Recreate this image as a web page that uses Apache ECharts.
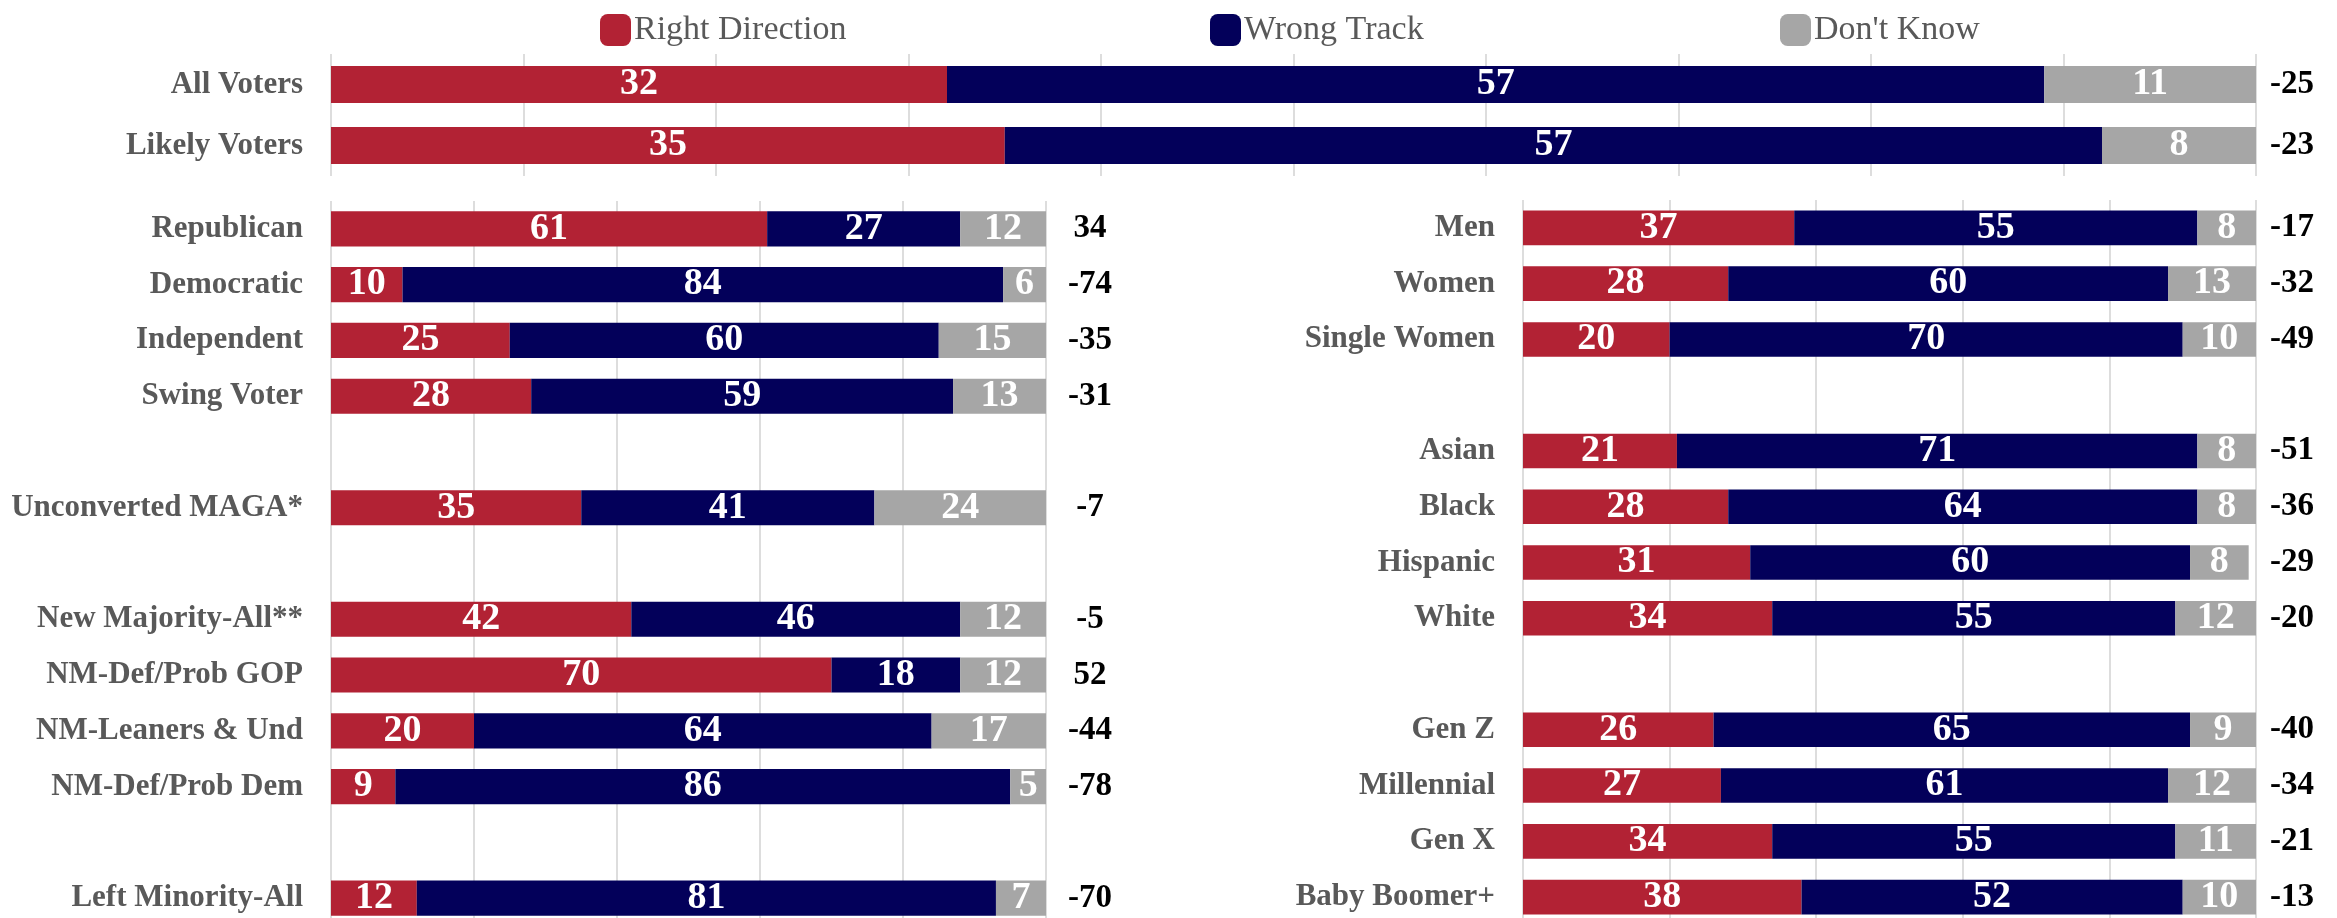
<!DOCTYPE html>
<html>
<head>
<meta charset="utf-8">
<title>Right Direction / Wrong Track</title>
<script src="https://cdn.jsdelivr.net/npm/echarts@6/dist/echarts.min.js"></script>
<style>
  html, body { margin: 0; padding: 0; background: #ffffff; overflow: hidden; }
  /* the last row runs slightly past the visible area, so the canvas is a bit taller */
  #chart { width: 2337px; height: 932px; }
</style>
</head>
<body>
<div id="chart"></div>
<script>
// Series names and colours
const seriesNames = ['Right Direction', 'Wrong Track', "Don't Know"];
const seriesColors = ['#B22234', '#03005A', '#A6A6A6'];

// Top panel: all voters / likely voters
const topCategories = ['All Voters', 'Likely Voters'];
const topRight = [32, 35];
const topWrong = [57, 57];
const topDontKnow = [11, 8];
const topNet = ['-25', '-23'];

// Bottom-left panel: party and New Majority groups ('' rows are spacers)
const leftCategories = ['Republican', 'Democratic', 'Independent', 'Swing Voter', '',
  'Unconverted MAGA*', '', 'New Majority-All**', 'NM-Def/Prob GOP', 'NM-Leaners & Und',
  'NM-Def/Prob Dem', '', 'Left Minority-All'];
const leftRight =    [61, 10, 25, 28, '-', 35, '-', 42, 70, 20, 9, '-', 12];
const leftWrong =    [27, 84, 60, 59, '-', 41, '-', 46, 18, 64, 86, '-', 81];
const leftDontKnow = [12, 6, 15, 13, '-', 24, '-', 12, 12, 17, 5, '-', 7];
const leftNet = ['34', '-74', '-35', '-31', '', '-7', '', '-5', '52', '-44', '-78', '', '-70'];

// Bottom-right panel: gender, race and generation
const rightCategories = ['Men', 'Women', 'Single Women', '', 'Asian', 'Black', 'Hispanic',
  'White', '', 'Gen Z', 'Millennial', 'Gen X', 'Baby Boomer+'];
const rightRight =    [37, 28, 20, '-', 21, 28, 31, 34, '-', 26, 27, 34, 38];
const rightWrong =    [55, 60, 70, '-', 71, 64, 60, 55, '-', 65, 61, 55, 52];
const rightDontKnow = [8, 13, 10, '-', 8, 8, 8, 12, '-', 9, 12, 11, 10];
const rightNet = ['-17', '-32', '-49', '', '-51', '-36', '-29', '-20', '', '-40', '-34', '-21', '-13'];

const FONT = '"Liberation Serif", "DejaVu Serif", serif';

const panels = [
  { cats: topCategories, values: [topRight, topWrong, topDontKnow], net: topNet,
    grid: { left: 331, width: 1925, top: 54, height: 122 }, interval: 10, gap: '39%', netMargin: 36 },
  { cats: leftCategories, values: [leftRight, leftWrong, leftDontKnow], net: leftNet,
    grid: { left: 331, width: 715, top: 201, height: 725 }, interval: 20, gap: '37%', netMargin: 44 },
  { cats: rightCategories, values: [rightRight, rightWrong, rightDontKnow], net: rightNet,
    grid: { left: 1523, width: 733, top: 200, height: 725 }, interval: 20, gap: '38%', netMargin: 36 }
];

const grids = [], xAxes = [], yAxes = [], series = [];

panels.forEach((p, gi) => {
  grids.push(Object.assign({ containLabel: false }, p.grid));
  xAxes.push({
    gridIndex: gi, type: 'value', min: 0, max: 100, interval: p.interval,
    axisLabel: { show: false }, axisLine: { show: false }, axisTick: { show: false },
    splitLine: { show: true, lineStyle: { color: '#DDDDDD', width: 2 } }
  });
  // category names on the left
  yAxes.push({
    gridIndex: gi, type: 'category', data: p.cats, inverse: true, position: 'left',
    axisLine: { show: false }, axisTick: { show: false },
    axisLabel: { interval: 0, margin: 28, color: '#595959', fontWeight: 'bold',
      fontSize: 31, fontFamily: FONT }
  });
  // net (right minus wrong) on the right
  yAxes.push({
    gridIndex: gi, type: 'category', data: p.net, inverse: true, position: 'right',
    axisLine: { show: false }, axisTick: { show: false }, splitLine: { show: false },
    axisLabel: { interval: 0, margin: p.netMargin, align: 'center', color: '#000000',
      fontWeight: 'bold', fontSize: 33, fontFamily: FONT }
  });
  p.values.forEach((vals, si) => {
    series.push({
      name: seriesNames[si], type: 'bar', stack: 'panel' + gi,
      xAxisIndex: gi, yAxisIndex: gi * 2,
      barCategoryGap: p.gap,
      data: vals,
      itemStyle: { color: seriesColors[si] },
      label: {
        show: true, position: 'inside', color: '#ffffff', fontWeight: 'bold',
        fontSize: 38, fontFamily: FONT,
        formatter: (d) => (d.value === '-' || d.value == null) ? '' : String(d.value)
      },
      emphasis: { disabled: true }
    });
  });
});

const legendLefts = [595, 1205, 1775];
const legends = seriesNames.map((n, i) => ({
  data: [n], left: legendLefts[i], top: 8,
  icon: 'roundRect', itemWidth: 31, itemHeight: 32, itemGap: 0,
  textStyle: { color: '#595959', fontSize: 34, fontFamily: FONT, padding: [0, 0, 0, -2] }
}));

const chart = echarts.init(document.getElementById('chart'), null, { renderer: 'canvas' });
chart.setOption({
  animation: false,
  backgroundColor: '#ffffff',
  legend: legends,
  grid: grids,
  xAxis: xAxes,
  yAxis: yAxes,
  series: series
});
</script>
</body>
</html>
